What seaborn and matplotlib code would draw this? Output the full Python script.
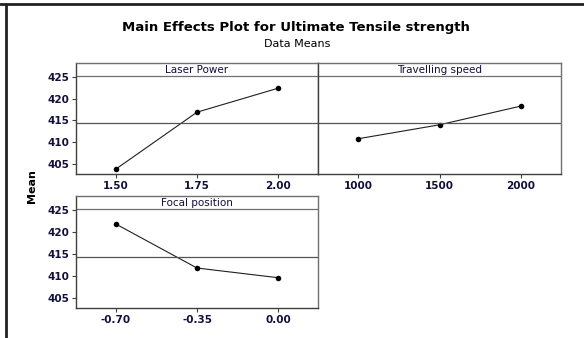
import numpy as np
import pandas as pd
import matplotlib
matplotlib.use("Agg")
import matplotlib.pyplot as plt
from matplotlib.lines import Line2D
import seaborn as sns

sns.set_theme(style="white")
plt.rcParams['font.family'] = ['DejaVu Sans']

# Data
factors = ["Laser Power", "Travelling speed", "Focal position"]
laser_labels = ["1.50", "1.75", "2.00"]
laser_means = [403.85, 416.9, 422.4]
speed_labels = ["1000", "1500", "2000"]
speed_means = [410.8, 414.0, 418.3]
focal_labels = ["-0.70", "-0.35", "0.00"]
focal_means = [421.8, 411.8, 409.6]
grand_mean = 414.4
y_ticks = [405, 410, 415, 420, 425]

W, H = 584, 338
fig = plt.figure(figsize=(W / 100, H / 100), dpi=100)

text_col = "#10103a"

def panel(left, top, right, bottom, title, labels, means, show_y):
    ax = fig.add_axes([left / W, 1 - bottom / H, (right - left) / W, (bottom - top) / H])
    df = pd.DataFrame({"pos": np.arange(len(labels)), "mean": means})
    sns.lineplot(data=df, x="pos", y="mean", ax=ax, color="#202020", lw=0.8,
                 marker="o", markersize=4, markeredgewidth=0, markerfacecolor="black")
    ax.axhline(grand_mean, color="#555555", lw=0.9)
    # header strip
    ax.axhline(425.3, color="#707070", lw=0.9)
    ax.text((len(labels) - 1) / 2, 427.85, title, ha="center", va="top",
            fontsize=7.5, color=text_col)
    ax.set_xlim(-0.494, len(labels) - 1 + 0.494)
    ax.set_ylim(402.7, 428.2)
    ax.set_xticks(np.arange(len(labels)))
    ax.set_xticklabels(labels)
    ax.set_yticks(y_ticks)
    ax.set_xlabel("")
    ax.set_ylabel("")
    ax.tick_params(axis="both", direction="out", length=3, width=0.8, color="#404040",
                   labelsize=7.5, labelcolor=text_col, pad=2, bottom=True, left=show_y)
    for lab in ax.get_xticklabels() + ax.get_yticklabels():
        lab.set_fontweight("bold")
    if not show_y:
        ax.set_yticklabels([])
    for s in ax.spines.values():
        s.set_color("#707070")
        s.set_linewidth(1.0)
    ax.spines["bottom"].set_color("#404040")
    ax.spines["left"].set_color("#404040")
    return ax

panel(76, 63, 318, 174, factors[0], laser_labels, laser_means, True)
panel(318, 63, 561, 174, factors[1], speed_labels, speed_means, False)
panel(76, 196, 318, 308, factors[2], focal_labels, focal_means, True)

fig.text(296 / W, 1 - 28 / H, "Main Effects Plot for Ultimate Tensile strength",
         ha="center", va="center", fontsize=9.5, fontweight="bold", color="black")
fig.text(297 / W, 1 - 44 / H, "Data Means", ha="center", va="center", fontsize=8,
         color="black")
fig.text(32 / W, 1 - 186 / H, "Mean", ha="center", va="center", rotation=90,
         fontsize=8, fontweight="bold", color="black")

# outer frame (top and left edges only)
fig.add_artist(Line2D([0, 1], [1 - 4 / H, 1 - 4 / H], transform=fig.transFigure,
                      color="#222222", lw=2))
fig.add_artist(Line2D([5.5 / W, 5.5 / W], [0, 1 - 4 / H], transform=fig.transFigure,
                      color="#222222", lw=2))

fig.savefig("out.png", dpi=100)
